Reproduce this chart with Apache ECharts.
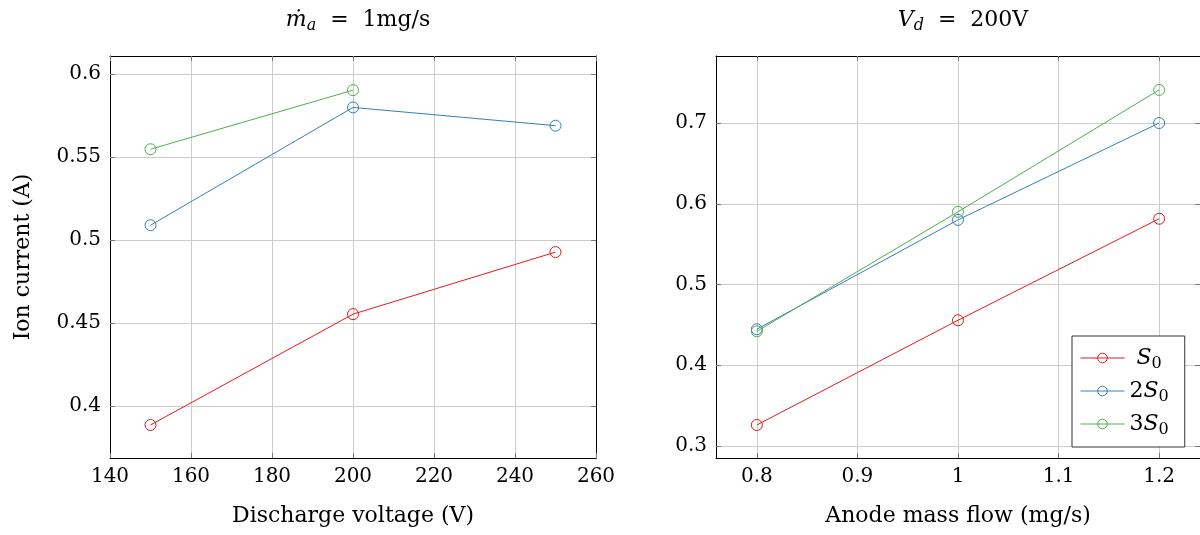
<!DOCTYPE html>
<html><head><meta charset="utf-8">
<script src="https://cdn.jsdelivr.net/npm/echarts@6/dist/echarts.min.js"></script>
<style>html,body{margin:0;padding:0;background:#fff}#c{width:1200px;height:535px}</style>
</head><body><div id="c"></div>
<script>
// Left panel: discharge voltage (V) vs ion current (A), mdot_a = 1 mg/s
const voltage = [150, 200, 250];
const leftS0  = [0.3886, 0.4554, 0.4928];
const left2S0 = [0.509, 0.580, 0.569];
const left3S0 = [0.5548, 0.5904];
// Right panel: anode mass flow (mg/s) vs ion current (A), Vd = 200 V
const massFlow = [0.8, 1.0, 1.2];
const rightS0  = [0.326, 0.4557, 0.5814];
const right2S0 = [0.4446, 0.580, 0.700];
const right3S0 = [0.442, 0.590, 0.741];
// tick values
const leftYTicks  = [0.4, 0.45, 0.5, 0.55, 0.6];
const rightYTicks = [0.3, 0.4, 0.5, 0.6, 0.7];
const rightXTicks = [0.8, 0.9, 1.0, 1.1, 1.2];
const seriesNames = ['S0', '2S0', '3S0'];
const colors = ['#e41a1c', '#377eb8', '#4daf4a'];

const FONT = 'DejaVu Serif';
const TXT = '#000';
const fmt = v => String(+v.toFixed(3));
const pair = (xs, ys) => ys.map((y, i) => [xs[i], y]);

function xAxisDef(gi, min, max, name, custom, interval) {
  const main = {
    type: 'value', gridIndex: gi, min, max, position: 'bottom',
    name, nameLocation: 'middle', nameGap: 47,
    nameTextStyle: {fontFamily: FONT, fontSize: 22, color: TXT},
    axisLine: {show: true, onZero: false, lineStyle: {color: '#000', width: 1}},
    axisTick: {show: true, inside: true, length: 5, lineStyle: {color: '#777'}},
    axisLabel: {fontFamily: FONT, fontSize: 20, color: TXT, margin: 9, formatter: fmt},
    splitLine: {show: true, lineStyle: {color: '#cccccc', width: 1}}
  };
  const top = {
    type: 'value', gridIndex: gi, min, max, position: 'top',
    axisLine: {show: true, onZero: false, lineStyle: {color: '#000', width: 1}},
    axisTick: {show: true, inside: true, length: 5, lineStyle: {color: '#777'}},
    axisLabel: {show: false}, splitLine: {show: false}
  };
  if (custom) {
    main.axisLabel.customValues = custom; main.axisTick.customValues = custom;
    top.axisTick.customValues = custom; top.axisLabel.customValues = custom;
  } else { main.interval = interval; top.interval = interval; }
  return [main, top];
}
function yAxisDef(gi, min, max, name, custom) {
  const main = {
    type: 'value', gridIndex: gi, min, max, position: 'left',
    name, nameLocation: 'middle', nameGap: 76, nameRotate: 90,
    nameTextStyle: {fontFamily: FONT, fontSize: 22, color: TXT},
    axisLine: {show: true, onZero: false, lineStyle: {color: '#000', width: 1}},
    axisTick: {show: true, inside: true, length: 5, customValues: custom, lineStyle: {color: '#777'}},
    axisLabel: {fontFamily: FONT, fontSize: 20, color: TXT, margin: 9, customValues: custom, formatter: fmt},
    splitLine: {show: true, lineStyle: {color: '#cccccc', width: 1}}
  };
  const right = {
    type: 'value', gridIndex: gi, min, max, position: 'right',
    axisLine: {show: true, onZero: false, lineStyle: {color: '#000', width: 1}},
    axisTick: {show: true, inside: true, length: 5, customValues: custom, lineStyle: {color: '#777'}},
    axisLabel: {show: false, customValues: custom}, splitLine: {show: false}
  };
  return [main, right];
}

const xa = [...xAxisDef(0, 140, 260, 'Discharge voltage (V)', null, 20),
            ...xAxisDef(1, 0.7594, 1.2406, 'Anode mass flow (mg/s)', rightXTicks)];
const ya = [...yAxisDef(0, 0.3687, 0.611, 'Ion current (A)', leftYTicks),
            ...yAxisDef(1, 0.2851, 0.783, '', rightYTicks)];

function ser(name, data, gi, ci) {
  return {
    name, type: 'line', data, xAxisIndex: gi * 2, yAxisIndex: gi * 2,
    symbol: 'circle', symbolSize: 11, showSymbol: true,
    lineStyle: {color: colors[ci], width: 1},
    itemStyle: {color: 'rgba(255,255,255,0)', borderColor: colors[ci], borderWidth: 1},
    emphasis: {disabled: true}, animation: false, z: 5
  };
}

const series = [
  ser(seriesNames[0], pair(voltage, leftS0), 0, 0),
  ser(seriesNames[1], pair(voltage, left2S0), 0, 1),
  ser(seriesNames[2], pair(voltage, left3S0), 0, 2),
  ser(seriesNames[0], pair(massFlow, rightS0), 1, 0),
  ser(seriesNames[1], pair(massFlow, right2S0), 1, 1),
  ser(seriesNames[2], pair(massFlow, right3S0), 1, 2)
];

const richTitle = {
  i: {fontFamily: FONT, fontStyle: 'italic', fontWeight: 'normal', fontSize: 22, color: TXT},
  n: {fontFamily: FONT, fontWeight: 'normal', fontSize: 22, color: TXT},
  sub: {fontFamily: FONT, fontStyle: 'italic', fontWeight: 'normal', fontSize: 16, color: TXT, padding: [12, 0, 0, 0]}
};
const richLegend = {
  i: {fontFamily: FONT, fontStyle: 'italic', fontSize: 22, color: TXT},
  n: {fontFamily: FONT, fontSize: 22, color: TXT},
  sub: {fontFamily: FONT, fontSize: 16, color: TXT, padding: [12, 0, 0, 0]}
};

const option = {
  animation: false,
  backgroundColor: '#fff',
  title: [
    {text: '{i|ṁ}{sub|a}{n|  =  1mg/s}', left: 353, top: 1, textAlign: 'center',
     textStyle: {fontWeight: 'normal', rich: richTitle}},
    {text: '{i|V}{sub|d}{n|  =  200V}', left: 958, top: 1, textAlign: 'center',
     textStyle: {fontWeight: 'normal', rich: richTitle}}
  ],
  grid: [
    {left: 110, top: 56, width: 486, height: 402, show: false},
    {left: 716, top: 56, width: 486, height: 402, show: false}
  ],
  xAxis: xa, yAxis: ya, series,
  legend: {
    data: seriesNames, orient: 'vertical', left: 1072, top: 336,
    padding: [11, 16, 9, 8], itemGap: 8, itemWidth: 44, itemHeight: 12,
    borderColor: '#333', borderWidth: 1, backgroundColor: '#fff', borderRadius: 0,
    selectedMode: false,
    lineStyle: {width: 1},
    itemStyle: {borderWidth: 1},
    formatter: n => n === 'S0' ? '{i| S}{sub|0}' : '{n|' + n[0] + '}{i|S}{sub|0}',
    textStyle: {rich: richLegend, padding: [0, 0, 0, 0]}
  }
};
const chart = echarts.init(document.getElementById('c'), null, {renderer: 'canvas'});
chart.setOption(option);
</script></body></html>
